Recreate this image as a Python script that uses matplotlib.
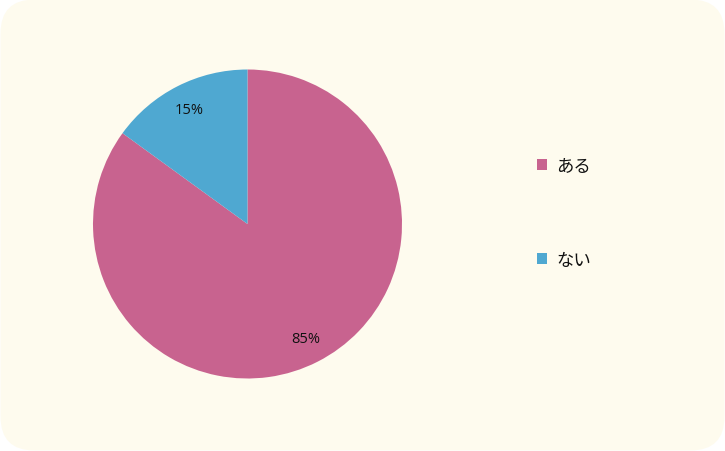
import matplotlib.pyplot as plt
from matplotlib.patches import FancyBboxPatch

labels = ['ある', 'ない']
values = [85, 15]
colors = ['#C8638F', '#4FA8D1']

W, H = 725, 452
fig = plt.figure(figsize=(W / 100, H / 100), dpi=100, facecolor='white')

# rounded cream background
bg = fig.add_axes([0, 0, 1, 1])
bg.set_xlim(0, W)
bg.set_ylim(0, H)
bg.axis('off')
bg.add_patch(FancyBboxPatch((0.5, 0.5), W - 1, H - 1,
                            boxstyle='round,pad=0,rounding_size=34',
                            facecolor='#FEFBEE', edgecolor='none'))

# pie axes: centre (247.5, 225), radius 154.5 px
cx, cy, r = 247.5, 225, 154.5
ax = fig.add_axes([(cx - r) / W, (H - cy - r) / H, 2 * r / W, 2 * r / H])
wedges, texts, autotexts = ax.pie(values, colors=colors, startangle=90,
                                  counterclock=False, autopct='%d%%',
                                  pctdistance=0.83,
                                  textprops={'fontsize': 10.5, 'color': '#111111',
                                             'family': ['Open Sans', 'DejaVu Sans']})
ax.set_xlim(-1, 1)
ax.set_ylim(-1, 1)
ax.set_aspect('equal')

leg = fig.legend(wedges, labels, loc='upper left',
                 bbox_to_anchor=(537 / W, 1 - 158 / H),
                 frameon=False, labelspacing=4.35,
                 handlelength=0.6, handleheight=0.6, handletextpad=0.5,
                 borderpad=0, borderaxespad=0,
                 prop={'family': ['Noto Sans CJK JP', 'DejaVu Sans'], 'size': 12.5})
for t in leg.get_texts():
    t.set_color('#111111')

fig.savefig('out.png', dpi=100, facecolor='white')
